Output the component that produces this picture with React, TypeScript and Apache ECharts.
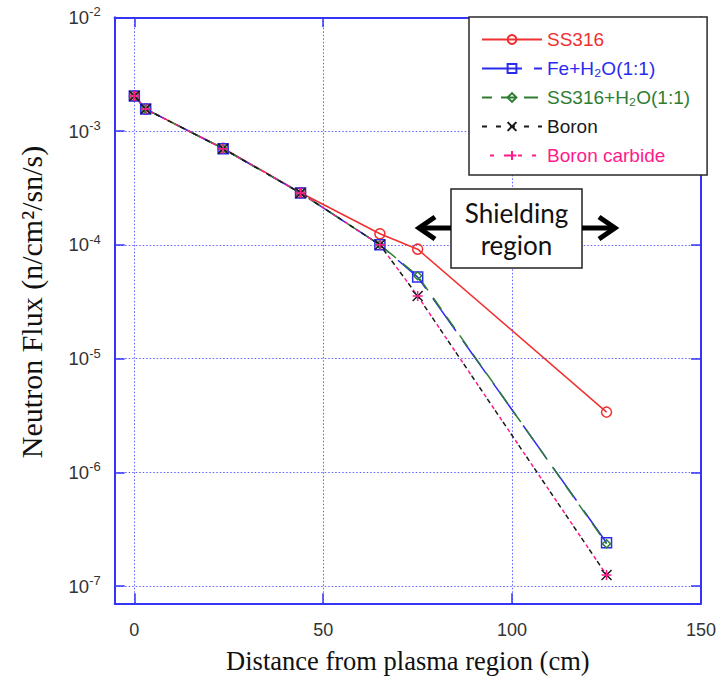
import React, { useEffect, useRef } from "react";
import * as echarts from "echarts";

// Data
const distance = [0, 3, 23.5, 44, 65, 75, 125];
const ss316 = [2.03e-3, 1.56e-3, 7.06e-4, 2.87e-4, 1.25e-4, 9.15e-5, 3.38e-6];
const feH2O = [2.03e-3, 1.56e-3, 7.0e-4, 2.85e-4, 1.0e-4, 5.2e-5, 2.4e-7];
const ss316H2O = [2.03e-3, 1.56e-3, 7.0e-4, 2.85e-4, 1.0e-4, 5.35e-5, 2.35e-7];
const boron = [2.03e-3, 1.56e-3, 7.0e-4, 2.85e-4, 1.0e-4, 3.55e-5, 1.25e-7];
const boronCarbide = [2.03e-3, 1.56e-3, 7.0e-4, 2.85e-4, 1.0e-4, 3.55e-5, 1.25e-7];

const seriesNames = ["SS316", "Fe+H₂O(1:1)", "SS316+H₂O(1:1)", "Boron", "Boron carbide"];
const xTitle = "Distance from plasma region (cm)";
const yTitle = "Neutron Flux (n/cm²/sn/s)";
const annotationLines = ["Shielding", "region"];

const AXIS = "#3535f5";
const GRID = "rgba(80,80,255,0.9)";
const SANS = "'Liberation Sans', Arial, sans-serif";
const SERIF = "'Liberation Serif', 'Times New Roman', serif";

const RED = "#f03030";
const BLUE = "#2b2bf0";
const GREEN = "#2e7d32";
const BLACK = "#1a1a1a";
const PINK = "#ff1a8c";

const pair = (ys: number[]) => distance.map((x, i) => [x, ys[i]]);

export default function App() {
  const ref = useRef<HTMLDivElement>(null);
  useEffect(() => {
    if (!ref.current) return;
    const chart = echarts.init(ref.current, null, { renderer: "svg" });

    const xFormatter = (v: number) => (Math.abs(v % 50) < 1e-6 ? String(v) : "");
    const yFormatter = (v: number) => {
      const e = Math.log10(v);
      if (Math.abs(e - Math.round(e)) > 1e-6) return "";
      return "10{sup|" + Math.round(e) + "}";
    };

    const xCommon = {
      type: "value",
      min: -5.2,
      max: 150,
      splitNumber: 3,
      axisLine: { show: true, onZero: false, lineStyle: { color: AXIS, width: 2 } },
      axisTick: { show: true, inside: true, length: 10, lineStyle: { color: AXIS, width: 1.5 } },
    };
    const yCommon = {
      type: "log",
      logBase: 10,
      min: 7.05e-8,
      max: 1e-2,
      splitNumber: 5,
      axisLine: { show: true, onZero: false, lineStyle: { color: AXIS, width: 2 } },
      axisTick: { show: true, inside: true, length: 10, lineStyle: { color: AXIS, width: 1.5 } },
      minorTick: { show: false },
    };

    const mkSeries = (
      name: string,
      ys: number[],
      color: string,
      symbol: string,
      size: number,
      lineType: any,
      dashOffset = 0
    ) => ({
      type: "line",
      name,
      data: pair(ys),
      symbol,
      symbolSize: size,
      showAllSymbol: true,
      lineStyle: { color, width: 1.5, type: lineType, dashOffset },
      itemStyle: { color: "none", borderColor: color, borderWidth: 1.5 },
      emphasis: { disabled: true },
    });

    const gridLine = { show: true, lineStyle: { type: [1.5, 2], color: GRID, width: 1 } };

    chart.setOption({
      animation: false,
      backgroundColor: "#fff",
      grid: { left: 114.7, top: 17.3, right: 16.3, bottom: 85.7, containLabel: false },
      xAxis: [
        {
          ...xCommon,
          position: "bottom",
          axisLabel: { margin: 18, fontSize: 18, color: "#333", fontFamily: SANS, formatter: xFormatter },
          splitLine: gridLine,
          name: xTitle,
          nameLocation: "middle",
          nameGap: 44,
          nameTextStyle: { fontFamily: SERIF, fontSize: 26.5, color: "#111" },
        },
        {
          ...xCommon,
          position: "top",
          axisLabel: { show: false },
          splitLine: { show: false },
        },
      ],
      yAxis: [
        {
          ...yCommon,
          position: "left",
          axisLabel: {
            margin: 14,
            fontSize: 18.5,
            color: "#333",
            fontFamily: SANS,
            formatter: yFormatter,
            rich: {
              sup: { fontSize: 13, fontFamily: SANS, color: "#333", padding: [0, 0, 11, 0] },
            },
          },
          splitLine: gridLine,
        },
        {
          ...yCommon,
          position: "right",
          axisLabel: { show: false },
          splitLine: { show: false },
        },
      ],
      legend: {
        orient: "vertical",
        left: 469,
        top: 17,
        padding: [13, 17, 10, 12],
        itemGap: 10,
        itemWidth: 60,
        itemHeight: 11,
        backgroundColor: "#fff",
        borderColor: "#2a2a2a",
        borderWidth: 1.5,
        borderRadius: 0,
        selectedMode: false,
        textStyle: { fontSize: 19, fontFamily: SANS },
        data: [
          { name: seriesNames[0], textStyle: { color: RED } },
          { name: seriesNames[1], textStyle: { color: BLUE } },
          { name: seriesNames[2], textStyle: { color: GREEN } },
          { name: seriesNames[3], textStyle: { color: BLACK } },
          { name: seriesNames[4], textStyle: { color: PINK } },
        ],
      },
      series: [
        mkSeries(seriesNames[0], ss316, RED, "circle", 10, "solid"),
        mkSeries(seriesNames[1], feH2O, BLUE, "rect", 10, [40, 12]),
        mkSeries(seriesNames[2], ss316H2O, GREEN, "diamond", 8, [14, 9], 4),
        mkSeries(seriesNames[3], boron, BLACK, "path://M0,0L10,10M10,0L0,10", 10, [5, 9]),
        mkSeries(seriesNames[4], boronCarbide, PINK, "path://M5,0L5,10M0,5L10,5", 10, [4, 10], 6),
      ],
      graphic: [
        {
          type: "text",
          x: 31,
          y: 302,
          rotation: Math.PI / 2,
          style: {
            text: yTitle,
            font: "30px " + SERIF,
            fill: "#111",
            align: "center",
            verticalAlign: "middle",
          },
          z: 100,
        },
        {
          type: "rect",
          shape: { x: 451, y: 189, width: 131, height: 79 },
          style: { fill: "#fff", stroke: "#222", lineWidth: 1.5 },
          z: 100,
        },
        {
          type: "text",
          x: 516.5,
          y: 213,
          style: { text: annotationLines[0], font: "26px Lato, 'Open Sans', sans-serif", fill: "#111", align: "center", verticalAlign: "middle" },
          z: 101,
        },
        {
          type: "text",
          x: 516.5,
          y: 245,
          style: { text: annotationLines[1], font: "26px Lato, 'Open Sans', sans-serif", fill: "#111", align: "center", verticalAlign: "middle" },
          z: 101,
        },
        {
          type: "line",
          shape: { x1: 451, y1: 228, x2: 420, y2: 228 },
          style: { stroke: "#000", lineWidth: 5 },
          z: 100,
        },
        {
          type: "polyline",
          shape: { points: [[435, 217], [419, 228], [435, 239]] },
          style: { stroke: "#000", lineWidth: 5, fill: "none", lineJoin: "miter" },
          z: 100,
        },
        {
          type: "line",
          shape: { x1: 582, y1: 228, x2: 614, y2: 228 },
          style: { stroke: "#000", lineWidth: 5 },
          z: 100,
        },
        {
          type: "polyline",
          shape: { points: [[599, 217], [615, 228], [599, 239]] },
          style: { stroke: "#000", lineWidth: 5, fill: "none", lineJoin: "miter" },
          z: 100,
        },
      ],
    } as any);

    return () => chart.dispose();
  }, []);

  return (
    <div
      ref={ref}
      style={{ position: "fixed", left: 0, top: 0, width: 719, height: 689, background: "#fff" }}
    />
  );
}
